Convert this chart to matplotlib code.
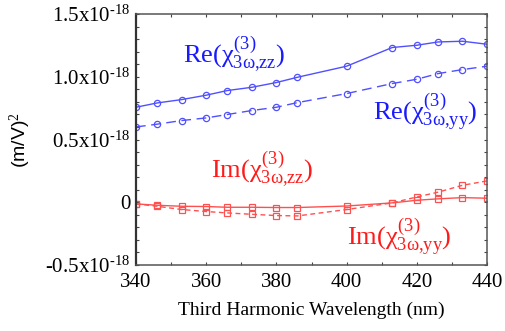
import matplotlib
matplotlib.use("Agg")
import matplotlib.pyplot as plt
from matplotlib.ticker import MultipleLocator, FixedLocator

plt.rcParams['mathtext.fontset'] = 'custom'
plt.rcParams['mathtext.rm'] = 'Liberation Serif'
plt.rcParams['mathtext.it'] = 'Liberation Serif'
plt.rcParams['mathtext.bf'] = 'Liberation Serif:bold'
plt.rcParams['font.family'] = ['Liberation Serif', 'DejaVu Serif']

# Data (values in units of 1e-18 (m/V)^2)
wavelength = [340, 346, 353, 360, 366, 373, 380, 386, 400, 413, 420, 426, 433, 440]
re_zz = [0.757, 0.791, 0.818, 0.853, 0.890, 0.916, 0.954, 0.996, 1.084, 1.233, 1.251, 1.277, 1.283, 1.259]
re_yy = [0.600, 0.622, 0.651, 0.672, 0.699, 0.731, 0.757, 0.794, 0.866, 0.946, 0.980, 1.025, 1.057, 1.084]
im_zz = [-0.013, -0.024, -0.032, -0.034, -0.040, -0.040, -0.042, -0.042, -0.030, -0.005, 0.016, 0.027, 0.037, 0.032]
im_yy = [-0.013, -0.032, -0.058, -0.074, -0.085, -0.096, -0.106, -0.109, -0.058, -0.005, 0.042, 0.080, 0.135, 0.170]

xticks = [340, 360, 380, 400, 420, 440]
yticks = [-0.5, 0, 0.5, 1.0, 1.5]
ytick_labels = [r'-0.5x10$^{\text{-18}}$', '0', r'0.5x10$^{\text{-18}}$',
                r'1.0x10$^{\text{-18}}$', r'1.5x10$^{\text{-18}}$']

blue_line = '#5050ff'
red_line = '#ff5050'

fig = plt.figure(figsize=(5.05, 3.31), dpi=100)
ax = fig.add_axes([136/505, 1-265/331, (487-136)/505, (265-14)/331])

ax.plot(wavelength, re_zz, '-', color=blue_line, lw=1.0, marker='o', ms=4.5, mfc='none', mew=0.9)
ax.plot(wavelength, re_yy, '--', color=blue_line, lw=1.0, marker='o', ms=4.5, mfc='none', mew=0.9, dashes=(7, 4))
ax.plot(wavelength, im_zz, '-', color=red_line, lw=1.0, marker='s', ms=4.5, mfc='none', mew=0.9)
ax.plot(wavelength, im_yy, '--', color=red_line, lw=1.0, marker='s', ms=4.5, mfc='none', mew=0.9, dashes=(3.5, 2.5))

ax.set_xlim(340, 440)
ax.set_ylim(-0.5, 1.5)
ax.xaxis.set_major_locator(FixedLocator(xticks))
ax.xaxis.set_minor_locator(MultipleLocator(10))
ax.yaxis.set_major_locator(FixedLocator(yticks))
ax.yaxis.set_minor_locator(MultipleLocator(0.1))
ax.set_yticklabels(ytick_labels)
ax.set_xticklabels([str(v) for v in xticks])
ax.tick_params(which='both', direction='in', top=True, right=True, length=2.5, width=0.8,
               color='#444444', labelsize=15)
ax.tick_params(axis='x', pad=6)
ax.tick_params(axis='y', pad=4)
for s in ax.spines.values():
    s.set_color('#555555')
    s.set_linewidth(1.1)
ax.spines['left'].set_linewidth(1.6)
ax.spines['left'].set_color('#333333')

ax.set_xlabel('Third Harmonic Wavelength (nm)', fontsize=14, labelpad=7)
fig.text(20/505, 1-140/331, r'(m/V)$^2$', rotation=90, ha='center', va='center',
         fontsize=14, family=['Liberation Sans'])

fs = 19
ax.text(353.5, 1.108, r'$\mathrm{Re}(\chi^{(3)}_{3\omega{,}zz})$', color='#1a1aff', fontsize=fs, va='baseline')
ax.text(407.4, 0.653, r'$\mathrm{Re}(\chi^{(3)}_{3\omega{,}yy})$', color='#1a1aff', fontsize=fs, va='baseline')
ax.text(361.4, 0.19, r'$\mathrm{Im}(\chi^{(3)}_{3\omega{,}zz})$', color='#ff1a1a', fontsize=fs, va='baseline')
ax.text(400, -0.343, r'$\mathrm{Im}(\chi^{(3)}_{3\omega{,}yy})$', color='#ff1a1a', fontsize=fs, va='baseline')

fig.savefig('out.png', dpi=100)
